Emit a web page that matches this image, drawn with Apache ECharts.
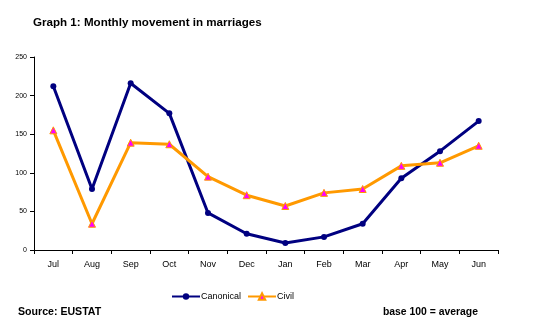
<!DOCTYPE html>
<html><head><meta charset="utf-8">
<script src="https://cdn.jsdelivr.net/npm/echarts@6/dist/echarts.min.js"></script>
<style>html,body{margin:0;padding:0;background:#fff}#c{width:536px;height:328px}</style>
</head><body><div id="c"></div>
<script>
const categories = ['Jul','Aug','Sep','Oct','Nov','Dec','Jan','Feb','Mar','Apr','May','Jun'];
const canonical = [212, 79, 216, 177, 48, 21, 9, 17, 34, 93, 128, 167];
const civil = [155, 34, 139, 137, 95, 71, 57, 74, 79, 109, 113, 135];
const yTicks = [0, 50, 100, 150, 200, 250];

const chart = echarts.init(document.getElementById('c'));
chart.setOption({
  animation: false,
  backgroundColor: '#fff',
  title: [
    {text: 'Graph 1: Monthly movement in marriages', left: 28, top: 12,
     textStyle: {fontFamily: 'Arial, Liberation Sans', fontSize: 11.6, fontWeight: 'bold', color: '#000'}},
    {text: 'Source: EUSTAT', left: 13, top: 302,
     textStyle: {fontFamily: 'Arial, Liberation Sans', fontSize: 10.6, fontWeight: 'bold', color: '#000'}},
    {text: 'base 100 = average', right: 53, top: 302,
     textStyle: {fontFamily: 'Arial, Liberation Sans', fontSize: 10.4, fontWeight: 'bold', color: '#000'}}
  ],
  legend: {
    top: 287, left: 166, itemWidth: 28, itemHeight: 8, itemGap: 6,
    textStyle: {fontFamily: 'Arial, Liberation Sans', fontSize: 9, color: '#000', padding: [0,0,0,-4]},
    data: ['Canonical', 'Civil']
  },
  grid: {left: 34, right: 38, top: 57, bottom: 78},
  xAxis: {
    type: 'category', data: categories, boundaryGap: true,
    axisLine: {lineStyle: {color: '#000', width: 1}},
    axisTick: {show: true, length: 4, lineStyle: {color: '#000'}},
    axisLabel: {fontFamily: 'Arial, Liberation Sans', fontSize: 9, color: '#000', margin: 10}
  },
  yAxis: {
    type: 'value', min: 0, max: 250, interval: 50,
    splitLine: {show: false},
    axisLine: {show: true, lineStyle: {color: '#000', width: 1}},
    axisTick: {show: true, length: 4, lineStyle: {color: '#000'}},
    axisLabel: {fontFamily: 'Arial, Liberation Sans', fontSize: 7, color: '#000', margin: 7,
      formatter: v => yTicks.includes(v) ? String(v) : ''}
  },
  series: [
    {name: 'Canonical', type: 'line', data: canonical, symbol: 'circle', symbolSize: 6,
     lineStyle: {color: '#000080', width: 3}, itemStyle: {color: '#000080'}},
    {name: 'Civil', type: 'line', data: civil, symbol: 'triangle', symbolSize: 7,
     lineStyle: {color: '#FF9900', width: 3}, itemStyle: {color: '#FF00FF', borderColor: '#FF9900', borderWidth: 1}}
  ]
});
</script></body></html>
